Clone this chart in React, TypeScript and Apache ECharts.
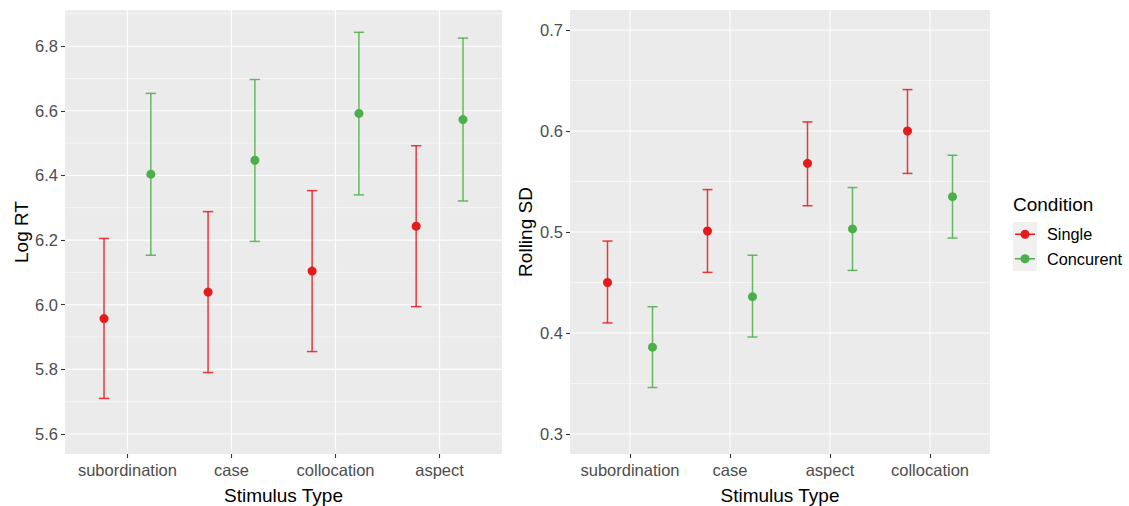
import React, { useEffect, useRef } from "react";
import * as echarts from "echarts";

// ---------- data ----------
const CATS_RT = ["subordination", "case", "collocation", "aspect"];
const RT_SINGLE_MEAN = [5.957, 6.039, 6.104, 6.243];
const RT_SINGLE_LOW = [5.71, 5.79, 5.855, 5.994];
const RT_SINGLE_HIGH = [6.205, 6.288, 6.353, 6.492];
const RT_CONC_MEAN = [6.404, 6.447, 6.592, 6.573];
const RT_CONC_LOW = [6.153, 6.196, 6.34, 6.321];
const RT_CONC_HIGH = [6.654, 6.697, 6.843, 6.825];
const RT_TICKS = [5.6, 5.8, 6.0, 6.2, 6.4, 6.6, 6.8];
const RT_MINOR = [5.7, 5.9, 6.1, 6.3, 6.5, 6.7, 6.9];

const CATS_SD = ["subordination", "case", "aspect", "collocation"];
const SD_SINGLE_MEAN = [0.45, 0.501, 0.568, 0.6];
const SD_SINGLE_LOW = [0.41, 0.46, 0.526, 0.558];
const SD_SINGLE_HIGH = [0.491, 0.542, 0.609, 0.641];
const SD_CONC_MEAN = [0.386, 0.436, 0.503, 0.535];
const SD_CONC_LOW = [0.346, 0.396, 0.462, 0.494];
const SD_CONC_HIGH = [0.426, 0.477, 0.544, 0.576];
const SD_TICKS = [0.3, 0.4, 0.5, 0.6, 0.7];
const SD_MINOR = [0.35, 0.45, 0.55, 0.65];

const CAT_POS = [1, 2, 3, 4];
const CONDITIONS = ["Single", "Concurent"];

// ---------- styling ----------
const RED = "#E41A1C";
const GREEN = "#4DAF4A";
const FONT = "'Liberation Sans', Arial, sans-serif";
const DODGE = 0.225;
const CAP = 0.1;
const X_MIN = 0.4;
const X_MAX = 4.6;

function gridLineSeries(idx: number, yMin: number, yMax: number, major: number[], minor: number[]) {
  const data: number[][] = [];
  major.forEach((v) => data.push([0, v, 1]));
  minor.forEach((v) => data.push([0, v, 0]));
  CAT_POS.forEach((v) => data.push([1, v, 1]));
  return {
    type: "custom",
    xAxisIndex: idx,
    yAxisIndex: idx,
    silent: true,
    z: 1,
    encode: { x: 1, y: 1 },
    renderItem: (params: any, api: any) => {
      const orient = api.value(0);
      const v = api.value(1);
      const isMajor = api.value(2) === 1;
      let p1, p2;
      if (orient === 0) {
        p1 = api.coord([X_MIN, v]);
        p2 = api.coord([X_MAX, v]);
      } else {
        p1 = api.coord([v, yMin]);
        p2 = api.coord([v, yMax]);
      }
      return {
        type: "line",
        shape: { x1: p1[0], y1: p1[1], x2: p2[0], y2: p2[1] },
        style: { stroke: "#FFFFFF", lineWidth: isMajor ? 1.1 : 0.55 },
      };
    },
    data,
  };
}

function errorSeries(idx: number, name: string, color: string, offset: number, lo: number[], hi: number[]) {
  return {
    type: "custom",
    name,
    xAxisIndex: idx,
    yAxisIndex: idx,
    z: 3,
    encode: { x: 0, y: [1, 2] },
    renderItem: (params: any, api: any) => {
      const x = api.value(0);
      const l = api.value(1);
      const h = api.value(2);
      const pl = api.coord([x, l]);
      const ph = api.coord([x, h]);
      const xl = api.coord([x - CAP / 2, h])[0];
      const xr = api.coord([x + CAP / 2, h])[0];
      const st = { stroke: color, lineWidth: 1.5, opacity: 0.85 };
      return {
        type: "group",
        children: [
          { type: "line", shape: { x1: pl[0], y1: pl[1], x2: ph[0], y2: ph[1] }, style: st },
          { type: "line", shape: { x1: xl, y1: ph[1], x2: xr, y2: ph[1] }, style: st },
          { type: "line", shape: { x1: xl, y1: pl[1], x2: xr, y2: pl[1] }, style: st },
        ],
      };
    },
    data: CAT_POS.map((c, i) => [c + offset, lo[i], hi[i]]),
  };
}

function pointSeries(idx: number, name: string, color: string, offset: number, mean: number[]) {
  return {
    type: "scatter",
    name,
    xAxisIndex: idx,
    yAxisIndex: idx,
    z: 4,
    symbol: "circle",
    symbolSize: 9,
    itemStyle: { color, opacity: 1 },
    data: CAT_POS.map((c, i) => [c + offset, mean[i]]),
  };
}

function xAxis(idx: number, cats: string[]) {
  return {
    type: "value",
    gridIndex: idx,
    min: X_MIN,
    max: X_MAX,
    name: "Stimulus Type",
    nameLocation: "middle",
    nameGap: 32,
    nameTextStyle: { color: "#000", fontSize: 19, fontFamily: FONT },
    axisLine: { show: false },
    axisTick: { show: true, customValues: CAT_POS, length: 4, lineStyle: { color: "#333333", width: 1.1 } },
    axisLabel: {
      customValues: CAT_POS,
      formatter: (v: number) => cats[Math.round(v) - 1] ?? "",
      color: "#4D4D4D",
      fontSize: 16.5,
      fontFamily: FONT,
      margin: 7,
    },
    splitLine: { show: false },
  };
}

function yAxis(idx: number, min: number, max: number, ticks: number[], name: string, gap: number) {
  return {
    type: "value",
    gridIndex: idx,
    min,
    max,
    name,
    nameLocation: "middle",
    nameGap: gap,
    nameRotate: 90,
    nameTextStyle: { color: "#000", fontSize: 19, fontFamily: FONT },
    axisLine: { show: false },
    axisTick: { show: true, customValues: ticks, length: 4, lineStyle: { color: "#333333", width: 1.1 } },
    axisLabel: {
      customValues: ticks,
      formatter: (v: number) => v.toFixed(1),
      color: "#4D4D4D",
      fontSize: 16.5,
      fontFamily: FONT,
      margin: 7,
    },
    splitLine: { show: false },
  };
}

const LEG_X = 1013;
const LEG_Y = 222;
const LEG_ROW = 24.5;

export default function App() {
  const ref = useRef<HTMLDivElement>(null);
  useEffect(() => {
    if (!ref.current) return;
    const chart = echarts.init(ref.current, undefined, { renderer: "svg" });
    const legendColors = [RED, GREEN];
    const legendGraphics: any[] = [
      {
        type: "text",
        x: LEG_X,
        y: 204,
        style: { text: "Condition", fontSize: 19, fontFamily: FONT, fill: "#000", verticalAlign: "middle" },
      },
      {
        type: "rect",
        shape: { x: LEG_X, y: LEG_Y, width: 24, height: LEG_ROW * 2 },
        style: { fill: "#F0F0F0" },
      },
    ];
    CONDITIONS.forEach((c, i) => {
      const cy = LEG_Y + LEG_ROW * i + LEG_ROW / 2;
      legendGraphics.push(
        { type: "line", shape: { x1: LEG_X + 2, y1: cy, x2: LEG_X + 22, y2: cy }, style: { stroke: legendColors[i], lineWidth: 1.5 } },
        { type: "circle", shape: { cx: LEG_X + 12, cy, r: 4.5 }, style: { fill: legendColors[i] } },
        {
          type: "text",
          x: LEG_X + 34,
          y: cy,
          style: { text: c, fontSize: 16.3, fontFamily: FONT, fill: "#000", verticalAlign: "middle" },
        }
      );
    });

    chart.setOption({
      animation: false,
      backgroundColor: "#FFFFFF",
      grid: [
        { left: 65, top: 10, width: 437, height: 444, show: true, backgroundColor: "#EBEBEB", borderWidth: 0, outerBoundsMode: "none", containLabel: false },
        { left: 570, top: 10, width: 420, height: 444, show: true, backgroundColor: "#EBEBEB", borderWidth: 0, outerBoundsMode: "none", containLabel: false },
      ],
      xAxis: [xAxis(0, CATS_RT), xAxis(1, CATS_SD)],
      yAxis: [
        yAxis(0, 5.538, 6.912, RT_TICKS, "Log RT", 34),
        yAxis(1, 0.2802, 0.7198, SD_TICKS, "Rolling SD", 35),
      ],
      series: [
        gridLineSeries(0, 5.538, 6.912, RT_TICKS, RT_MINOR),
        gridLineSeries(1, 0.2802, 0.7198, SD_TICKS, SD_MINOR),
        errorSeries(0, CONDITIONS[0], RED, -DODGE, RT_SINGLE_LOW, RT_SINGLE_HIGH),
        errorSeries(0, CONDITIONS[1], GREEN, DODGE, RT_CONC_LOW, RT_CONC_HIGH),
        pointSeries(0, CONDITIONS[0], RED, -DODGE, RT_SINGLE_MEAN),
        pointSeries(0, CONDITIONS[1], GREEN, DODGE, RT_CONC_MEAN),
        errorSeries(1, CONDITIONS[0], RED, -DODGE, SD_SINGLE_LOW, SD_SINGLE_HIGH),
        errorSeries(1, CONDITIONS[1], GREEN, DODGE, SD_CONC_LOW, SD_CONC_HIGH),
        pointSeries(1, CONDITIONS[0], RED, -DODGE, SD_SINGLE_MEAN),
        pointSeries(1, CONDITIONS[1], GREEN, DODGE, SD_CONC_MEAN),
      ],
      graphic: legendGraphics,
    });
    return () => chart.dispose();
  }, []);
  return (
    <div
      ref={ref}
      style={{ position: "fixed", left: 0, top: 0, width: 1129, height: 506, background: "#fff" }}
    />
  );
}
